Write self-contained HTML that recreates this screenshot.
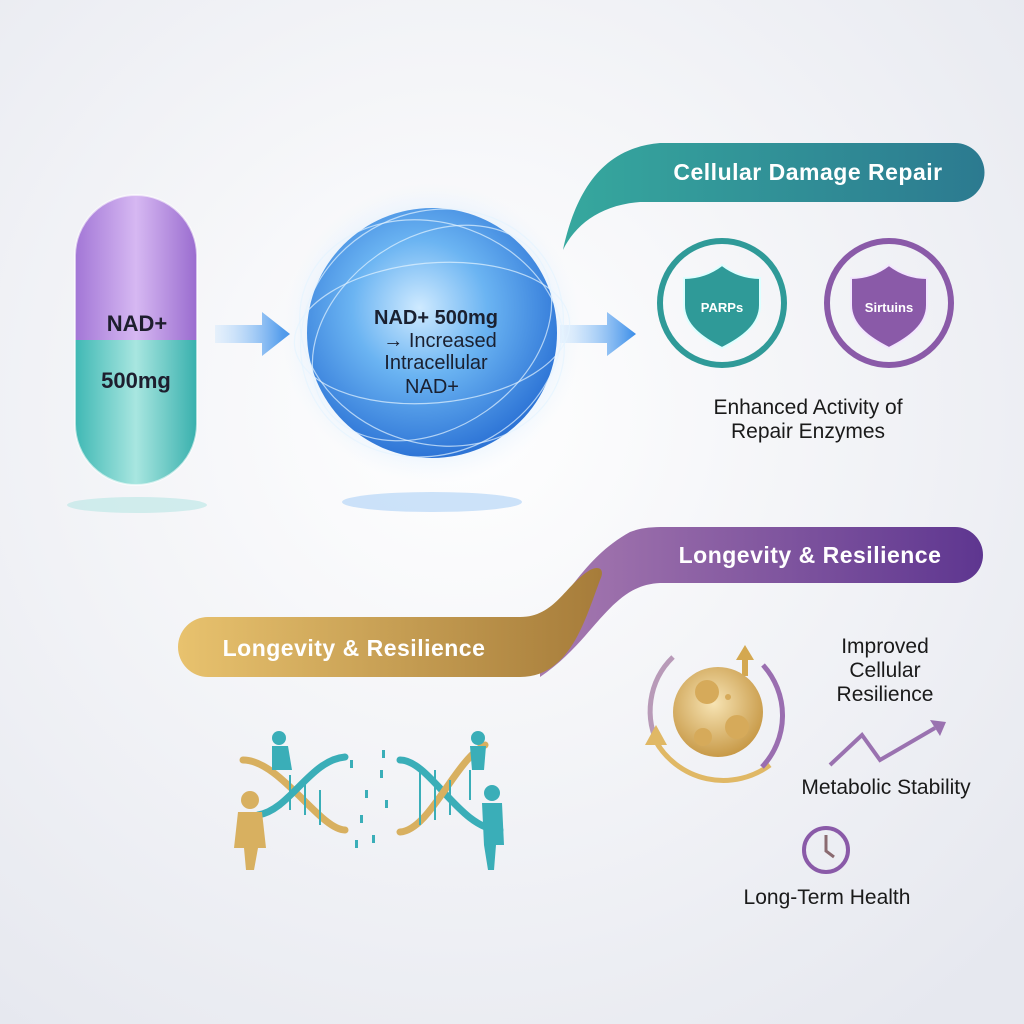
<!DOCTYPE html>
<html><head><meta charset="utf-8"><style>
html,body{margin:0;padding:0;width:1024px;height:1024px;overflow:hidden;background:#eef0f5}
svg{display:block}
text{font-family:"Liberation Sans",sans-serif}
</style></head><body>
<svg width="1024" height="1024" viewBox="0 0 1024 1024" xmlns="http://www.w3.org/2000/svg">
<defs>
<radialGradient id="bg" cx="45%" cy="40%" r="75%"><stop offset="0" stop-color="#ffffff"/><stop offset="1" stop-color="#e6e8ef"/></radialGradient>
<linearGradient id="capTop" x1="0" y1="0" x2="1" y2="0"><stop offset="0" stop-color="#a276d6"/><stop offset="0.5" stop-color="#d6b8f2"/><stop offset="1" stop-color="#9a6ccf"/></linearGradient>
<linearGradient id="capBot" x1="0" y1="0" x2="1" y2="0"><stop offset="0" stop-color="#3fb8b4"/><stop offset="0.5" stop-color="#a8e6e0"/><stop offset="1" stop-color="#38b0ad"/></linearGradient>
<radialGradient id="sph" cx="45%" cy="40%" r="60%"><stop offset="0" stop-color="#cfeaff"/><stop offset="0.45" stop-color="#6bb4f2"/><stop offset="1" stop-color="#2d74d6"/></radialGradient>
<radialGradient id="glow" cx="50%" cy="50%" r="50%"><stop offset="0.6" stop-color="#bfe0ff" stop-opacity="0.8"/><stop offset="1" stop-color="#e8f3ff" stop-opacity="0"/></radialGradient>
<linearGradient id="arr" x1="0" y1="0" x2="1" y2="0"><stop offset="0" stop-color="#bfe0ff" stop-opacity="0.3"/><stop offset="1" stop-color="#3a8de8"/></linearGradient>
<linearGradient id="teal" x1="0" y1="0" x2="1" y2="0"><stop offset="0" stop-color="#36a89e"/><stop offset="1" stop-color="#2c7a90"/></linearGradient>
<linearGradient id="purp" x1="0" y1="0" x2="1" y2="0"><stop offset="0" stop-color="#a77ab0"/><stop offset="1" stop-color="#5e3690"/></linearGradient>
<linearGradient id="gold" x1="0" y1="0" x2="1" y2="0"><stop offset="0" stop-color="#e8c26e"/><stop offset="1" stop-color="#a67c3a"/></linearGradient>
<radialGradient id="cell" cx="45%" cy="40%" r="60%"><stop offset="0" stop-color="#f7e4b4"/><stop offset="1" stop-color="#c89a48"/></radialGradient>
</defs>
<rect width="1024" height="1024" fill="url(#bg)"/>

<!-- capsule -->
<ellipse cx="137" cy="505" rx="70" ry="8" fill="#b8e6e4" opacity="0.6"/>
<path d="M75 256 A61 61 0 0 1 197 256 L197 340 L75 340 Z" fill="url(#capTop)"/>
<path d="M75 340 L197 340 L197 424 A61 61 0 0 1 75 424 Z" fill="url(#capBot)"/>
<rect x="75" y="195" width="122" height="290" rx="61" fill="none" stroke="#ffffff" stroke-opacity="0.6" stroke-width="2"/>
<text x="137" y="331" font-size="22" font-weight="bold" fill="#1e1e2e" text-anchor="middle">NAD+</text>
<text x="136" y="388" font-size="22" font-weight="bold" fill="#1e1e2e" text-anchor="middle">500mg</text>

<!-- arrows -->
<path d="M215 325 L262 325 L262 312 L290 334 L262 356 L262 343 L215 343 Z" fill="url(#arr)"/>
<path d="M560 325 L607 325 L607 312 L636 334 L607 356 L607 343 L560 343 Z" fill="url(#arr)"/>

<!-- sphere -->
<ellipse cx="432" cy="502" rx="90" ry="10" fill="#9cc8f5" opacity="0.5"/>
<circle cx="432" cy="333" r="150" fill="url(#glow)"/>
<circle cx="432" cy="333" r="125" fill="url(#sph)"/>
<g fill="none" stroke="#e4f4ff" stroke-opacity="0.7" stroke-width="1.2">
<ellipse cx="432" cy="333" rx="135" ry="110" transform="rotate(20 432 333)"/>
<ellipse cx="432" cy="333" rx="130" ry="95" transform="rotate(-35 432 333)"/>
<ellipse cx="432" cy="333" rx="120" ry="135" transform="rotate(60 432 333)"/>
<ellipse cx="432" cy="333" rx="138" ry="70" transform="rotate(-5 432 333)"/>
</g>
<text x="436" y="324" font-size="20" font-weight="bold" fill="#1a2030" text-anchor="middle">NAD+ 500mg</text>
<text x="440" y="347" font-size="20" fill="#1a2030" text-anchor="middle">→ Increased</text>
<text x="436" y="369" font-size="20" fill="#1a2030" text-anchor="middle">Intracellular</text>
<text x="432" y="393" font-size="20" fill="#1a2030" text-anchor="middle">NAD+</text>

<!-- teal banner -->
<path d="M563 250 C575 195 600 148 660 143 L955 143 A29 29 0 0 1 955 202 L640 202 C600 205 575 225 563 250 Z" fill="url(#teal)"/>
<text x="808" y="180" font-size="23" font-weight="bold" fill="#ffffff" text-anchor="middle" letter-spacing="0.5">Cellular Damage Repair</text>

<!-- shields -->
<circle cx="722" cy="303" r="62" fill="none" stroke="#2f9a98" stroke-width="6"/>
<path d="M722 265 C735 275 748 278 760 278 L760 305 C760 325 742 338 722 348 C702 338 684 325 684 305 L684 278 C696 278 709 275 722 265 Z" fill="#2f9a98" stroke="#dff" stroke-width="2"/>
<text x="722" y="312" font-size="13" font-weight="bold" fill="#fff" text-anchor="middle">PARPs</text>
<circle cx="889" cy="303" r="62" fill="none" stroke="#8a5aa8" stroke-width="6"/>
<path d="M889 265 C902 275 915 278 927 278 L927 305 C927 325 909 338 889 348 C869 338 851 325 851 305 L851 278 C863 278 876 275 889 265 Z" fill="#8a5aa8" stroke="#f3e6ff" stroke-width="2"/>
<text x="889" y="312" font-size="13" font-weight="bold" fill="#fff" text-anchor="middle">Sirtuins</text>
<text x="808" y="414" font-size="21" fill="#1a1a1a" text-anchor="middle">Enhanced Activity of</text>
<text x="808" y="438" font-size="21" fill="#1a1a1a" text-anchor="middle">Repair Enzymes</text>

<!-- purple + gold banners -->
<path d="M540 617 C570 600 580 560 630 532 C640 528 650 527 665 527 L955 527 A28 28 0 0 1 955 583 L660 583 C610 585 595 640 540 677 Z" fill="url(#purp)"/>
<path d="M208 617 L520 617 C555 617 565 585 590 570 C600 565 605 570 600 580 C585 620 570 677 520 677 L208 677 A30 30 0 0 1 208 617 Z" fill="url(#gold)"/>
<text x="810" y="563" font-size="23" font-weight="bold" fill="#ffffff" text-anchor="middle" letter-spacing="0.5">Longevity &amp; Resilience</text>
<text x="354" y="656" font-size="23" font-weight="bold" fill="#ffffff" text-anchor="middle" letter-spacing="0.5">Longevity &amp; Resilience</text>

<!-- cycle -->
<path d="M673 657 A75 75 0 0 0 660 748" fill="none" stroke="#b89ab8" stroke-width="5"/>
<path d="M655 740 A78 78 0 0 0 770 765" fill="none" stroke="#e0b865" stroke-width="5"/>
<path d="M763 665 A75 75 0 0 1 762 767" fill="none" stroke="#9a6eb0" stroke-width="5"/>
<path d="M645 745 L656 725 L667 745 Z" fill="#e0b865"/>
<path d="M736 660 L745 645 L754 660 Z" fill="#d4a850"/>
<rect x="742" y="658" width="6" height="18" fill="#d4a850"/>
<circle cx="718" cy="712" r="45" fill="url(#cell)"/>
<circle cx="707" cy="692" r="12" fill="#d6aa5a"/>
<circle cx="737" cy="727" r="12" fill="#d6aa5a"/>
<circle cx="703" cy="737" r="9" fill="#d6aa5a"/>
<circle cx="728" cy="697" r="3" fill="#d6aa5a"/>

<text x="885" y="653" font-size="21" fill="#1a1a1a" text-anchor="middle">Improved</text>
<text x="885" y="677" font-size="21" fill="#1a1a1a" text-anchor="middle">Cellular</text>
<text x="885" y="701" font-size="21" fill="#1a1a1a" text-anchor="middle">Resilience</text>
<polyline points="830,765 862,735 880,760 935,728" fill="none" stroke="#9a72b0" stroke-width="4"/>
<path d="M930 720 L946 722 L940 736 Z" fill="#9a72b0"/>
<text x="886" y="794" font-size="21" fill="#1a1a1a" text-anchor="middle">Metabolic Stability</text>
<circle cx="826" cy="850" r="22" fill="none" stroke="#8a5aa8" stroke-width="4"/>
<path d="M826 835 L826 851 L834 857" fill="none" stroke="#8a6a70" stroke-width="3"/>
<text x="827" y="904" font-size="21" fill="#1a1a1a" text-anchor="middle">Long-Term Health</text>

<!-- DNA -->
<g fill="none" stroke-width="7" stroke-linecap="round">
<path d="M243 760 C280 760 320 830 345 830" stroke="#d8b060"/>
<path d="M258 815 C290 810 310 760 345 757" stroke="#3aaeb8"/>
<path d="M400 760 C430 760 460 830 500 830" stroke="#3aaeb8"/>
<path d="M400 832 C430 830 455 760 485 745" stroke="#d8b060"/>
</g>
<g stroke="#3aaeb8" stroke-width="2">
<line x1="290" y1="775" x2="290" y2="810"/><line x1="305" y1="780" x2="305" y2="815"/><line x1="320" y1="790" x2="320" y2="825"/>
<line x1="420" y1="765" x2="420" y2="825"/><line x1="435" y1="770" x2="435" y2="820"/><line x1="450" y1="780" x2="450" y2="815"/><line x1="470" y1="770" x2="470" y2="800"/>
</g>
<g fill="#3aaeb8">
<rect x="350" y="760" width="3" height="8"/><rect x="365" y="790" width="3" height="8"/><rect x="380" y="770" width="3" height="8"/><rect x="360" y="815" width="3" height="8"/><rect x="372" y="835" width="3" height="8"/><rect x="385" y="800" width="3" height="8"/><rect x="355" y="840" width="3" height="8"/><rect x="382" y="750" width="3" height="8"/>
</g>
<g fill="#d8b060"><circle cx="250" cy="800" r="9"/><path d="M238 812 L262 812 L266 848 L258 848 L254 870 L246 870 L244 848 L234 848 Z"/></g>
<g fill="#3aaeb8"><circle cx="279" cy="738" r="7"/><path d="M272 746 L288 746 L292 770 L272 770 Z"/>
<circle cx="478" cy="738" r="7"/><path d="M470 746 L486 746 L484 770 L472 770 Z"/>
<circle cx="492" cy="793" r="8"/><path d="M482 803 L502 803 L504 845 L496 845 L494 870 L488 870 L484 845 Z"/></g>
</svg>
</body></html>
